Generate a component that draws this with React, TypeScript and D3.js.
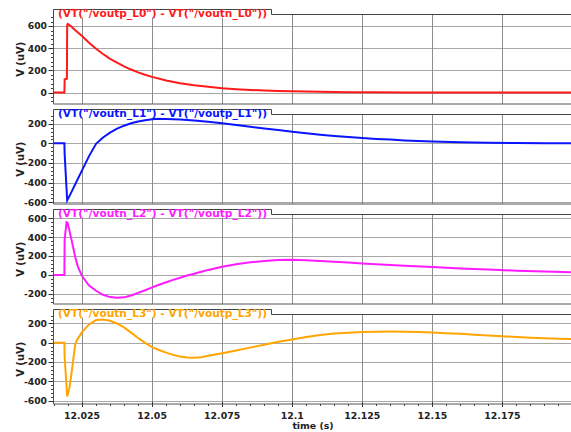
import React from 'react';
import * as d3 from 'd3';

// waveform samples: [time (s), V (uV)]
const vL0: [number, number][] = [
  [12.0146, 0], [12.0187, 0], [12.0188, 120], [12.0196, 125], [12.0197, 610], [12.0199, 620],
  [12.021, 600], [12.0225, 565], [12.025, 510], [12.0275, 450], [12.03, 395], [12.0325, 348],
  [12.035, 305], [12.0375, 270], [12.04, 237], [12.0425, 208], [12.045, 183], [12.0475, 161],
  [12.05, 142], [12.055, 110], [12.06, 85], [12.065, 66], [12.07, 52], [12.075, 40],
  [12.08, 31], [12.085, 24], [12.09, 19], [12.095, 15], [12.1, 12], [12.11, 7],
  [12.12, 4], [12.13, 2], [12.14, 0], [12.2, 0],
];

const vL1: [number, number][] = [
  [12.0146, 0], [12.0187, 0], [12.0188, -110], [12.0197, -580], [12.021, -510], [12.0225, -420],
  [12.025, -275], [12.0275, -130], [12.03, -5], [12.0325, 60], [12.035, 110], [12.0375, 150],
  [12.04, 180], [12.0425, 205], [12.045, 222], [12.0475, 236], [12.05, 245], [12.0525, 250],
  [12.055, 249], [12.06, 243], [12.065, 232], [12.07, 220], [12.075, 205], [12.08, 188],
  [12.085, 170], [12.09, 152], [12.095, 135], [12.1, 118], [12.105, 102], [12.11, 88],
  [12.115, 75], [12.12, 64], [12.125, 54], [12.13, 45], [12.135, 38], [12.14, 30],
  [12.145, 24], [12.15, 18], [12.16, 10], [12.17, 5], [12.18, 3], [12.19, 1], [12.2, 0],
];

const vL2: [number, number][] = [
  [12.0146, 0], [12.0187, 0], [12.0188, 380], [12.0195, 560], [12.0198, 555], [12.0205, 470],
  [12.0215, 340], [12.0225, 200], [12.0235, 90], [12.025, -10], [12.0275, -110], [12.03, -165],
  [12.0325, -208], [12.035, -232], [12.0375, -240], [12.04, -235], [12.0425, -215], [12.045, -188],
  [12.0475, -160], [12.05, -130], [12.0525, -102], [12.055, -75], [12.0575, -50], [12.06, -27],
  [12.0625, -5], [12.065, 15], [12.0675, 35], [12.07, 55], [12.075, 88], [12.08, 115],
  [12.085, 135], [12.09, 150], [12.095, 159], [12.1, 162], [12.105, 158], [12.11, 150],
  [12.115, 141], [12.12, 132], [12.125, 123], [12.13, 115], [12.14, 100], [12.15, 86],
  [12.16, 70], [12.17, 58], [12.18, 47], [12.19, 38], [12.2, 30],
];

const vL3: [number, number][] = [
  [12.0146, 0], [12.0187, 0], [12.0188, -150], [12.0197, -555], [12.0205, -470], [12.0215, -260],
  [12.0225, -30], [12.023, 20], [12.025, 110], [12.0275, 190], [12.03, 235], [12.0325, 240],
  [12.035, 228], [12.0375, 200], [12.04, 160], [12.0425, 105], [12.045, 50], [12.0475, 0],
  [12.05, -45], [12.0525, -75], [12.055, -102], [12.0575, -125], [12.06, -143], [12.0625, -152],
  [12.065, -155], [12.0675, -150], [12.07, -135], [12.075, -108], [12.08, -80], [12.085, -50],
  [12.09, -20], [12.095, 10], [12.1, 35], [12.105, 60], [12.11, 80], [12.115, 95],
  [12.12, 105], [12.125, 112], [12.13, 115], [12.135, 116], [12.14, 115], [12.145, 112],
  [12.15, 107], [12.155, 100], [12.16, 93], [12.165, 84], [12.17, 76], [12.175, 68],
  [12.18, 60], [12.185, 53], [12.19, 47], [12.195, 42], [12.2, 38],
];

const titles = [
  '(VT("/voutp_L0") - VT("/voutn_L0"))',
  '(VT("/voutn_L1") - VT("/voutp_L1"))',
  '(VT("/voutn_L2") - VT("/voutp_L2"))',
  '(VT("/voutn_L3") - VT("/voutp_L3"))',
];
const colors = ['#ff1a1a', '#0a14ff', '#ff1aff', '#ffa500'];
const yDomains: [number, number][] = [[-103, 705], [-618, 294], [-305, 640], [-634, 293]];
const yTicks = [[0, 200, 400, 600], [-600, -400, -200, 0, 200], [-200, 0, 200, 400, 600], [-600, -400, -200, 0, 200]];
const xTicks = [12.025, 12.05, 12.075, 12.1, 12.125, 12.15, 12.175];
const xTickLabels = ['12.025', '12.05', '12.075', '12.1', '12.125', '12.15', '12.175'];
const series = [vL0, vL1, vL2, vL3];

const W = 571;
const H = 432;
const left = 53.5;
const right = 572.5;
const panelTops = [14.5, 114.5, 214.5, 314.5];
const panelH = 89.5;
const font = '"DejaVu Sans", sans-serif';

export default function App() {
  const x = d3.scaleLinear().domain([12.01482, 12.2]).range([left, right]);
  const minorX = d3.range(12.015, 12.2001, 0.005).filter((t) => !xTicks.some((m) => Math.abs(m - t) < 1e-6));

  return (
    <svg width={W} height={H} style={{ position: 'absolute', left: 0, top: 0, background: '#fff' }}>
      <defs>
        {panelTops.map((top, i) => (
          <clipPath id={`clip${i}`} key={i}>
            <rect x={left} y={top} width={right - left} height={panelH} />
          </clipPath>
        ))}
      </defs>
      {series.map((data, i) => {
        const top = panelTops[i];
        const bottom = top + panelH;
        const y = d3.scaleLinear().domain(yDomains[i]).range([bottom, top]);
        const line = d3.line<[number, number]>().x((d) => x(d[0])).y((d) => y(d[1]));
        const minorY = d3.range(yDomains[i][0], yDomains[i][1], 1)
          .filter((v) => v % 40 === 0 && v % 200 !== 0);
        return (
          <g key={i}>
            {/* grid */}
            {yTicks[i].map((v) => (
              <line key={'gy' + v} x1={left} x2={right} y1={Math.round(y(v)) + 0.5} y2={Math.round(y(v)) + 0.5}
                stroke="#a8a8a8" strokeWidth={1} />
            ))}
            {xTicks.map((t) => (
              <line key={'gx' + t} x1={Math.round(x(t)) + 0.5} x2={Math.round(x(t)) + 0.5} y1={top} y2={bottom}
                stroke="#8c8c8c" strokeWidth={1} />
            ))}
            <path d={line(data) || ''} fill="none" stroke={colors[i]} strokeWidth={2} clipPath={`url(#clip${i})`} />
            {/* frame */}
            <line x1={left} x2={right} y1={bottom} y2={bottom} stroke="#555" strokeWidth={1} />
            <line x1={left} x2={left} y1={top} y2={bottom} stroke="#555" strokeWidth={1} />
            <rect x={left} y={top - 5} width={271 - left} height={8} fill="#fff" />
            <path d={`M${left},${top + 3}V${top - 5}H271.5V${top}H${right}`} fill="none" stroke="#444" strokeWidth={1} />
            <text x={58} y={top + 2.8} fontFamily={font} fontWeight="bold" fontSize={10.6} fill={colors[i]}>
              {titles[i]}
            </text>
            {/* y axis */}
            {yTicks[i].map((v) => (
              <g key={'ty' + v}>
                <line x1={left - 5} x2={left} y1={Math.round(y(v)) + 0.5} y2={Math.round(y(v)) + 0.5} stroke="#333" />
                <text x={left - 6.5} y={y(v) + 3.3} textAnchor="end" fontFamily={font} fontWeight="bold" fontSize={9.2} fill="#222">
                  {v}
                </text>
              </g>
            ))}
            {minorY.map((v) => (
              <line key={'my' + v} x1={left - 2.5} x2={left} y1={Math.round(y(v)) + 0.5} y2={Math.round(y(v)) + 0.5} stroke="#444" />
            ))}
            <text transform={`translate(24,${(top + bottom) / 2}) rotate(-90)`} textAnchor="middle"
              fontFamily={font} fontWeight="bold" fontSize={10} fill="#222">
              V (uV)
            </text>
          </g>
        );
      })}
      {/* x axis */}
      {(() => {
        const axisY = panelTops[3] + panelH;
        return (
          <g>
            {xTicks.map((t, j) => (
              <g key={'tx' + t}>
                <line x1={Math.round(x(t)) + 0.5} x2={Math.round(x(t)) + 0.5} y1={axisY - 2} y2={axisY + 3} stroke="#333" />
                <text x={x(t)} y={axisY + 15.3} textAnchor="middle" fontFamily={font} fontWeight="bold" fontSize={9.4} fill="#222">
                  {xTickLabels[j]}
                </text>
              </g>
            ))}
            {minorX.map((t) => (
              <line key={'mx' + t} x1={Math.round(x(t)) + 0.5} x2={Math.round(x(t)) + 0.5} y1={axisY} y2={axisY + 2} stroke="#444" />
            ))}
            <text x={(left + right) / 2} y={axisY + 25} textAnchor="middle" fontFamily={font} fontWeight="bold" fontSize={9.4} fill="#222">
              time (s)
            </text>
          </g>
        );
      })()}
    </svg>
  );
}
